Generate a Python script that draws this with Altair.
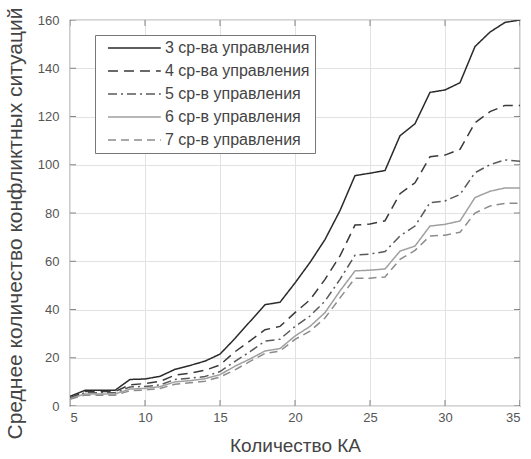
import altair as alt
import pandas as pd

x_vals = list(range(5, 36))

series_names = [
    "3 ср-ва управления",
    "4 ср-ва управления",
    "5 ср-в управления",
    "6 ср-в управления",
    "7 ср-в управления",
]

c3 = [4, 6.5, 6.5, 6.5, 11, 11.2, 12.3, 15.2, 16.8, 18.6, 21.5, 28, 35, 42, 43, 51,
      59.5, 69, 81, 95.5, 96.5, 97.6, 112, 117, 130, 131, 134, 149, 155, 159, 160]
c4 = [3.3, 6, 6, 6, 8.8, 9.3, 10.2, 12.8, 13.6, 14.8, 17, 22.5, 27, 31.6, 33, 38.7,
      44, 52.5, 62.2, 75, 75.4, 76.8, 88, 92.5, 103.3, 104, 106.4, 117.4, 122, 124.6, 124.6]
c5 = [3.2, 5.5, 5.5, 5.5, 7.9, 8.1, 8.7, 11, 11.5, 12.2, 14.3, 18.5, 22.5, 26.9, 27.7, 33,
      37.3, 43.5, 52.5, 62.5, 63, 64, 70.5, 74.6, 84.3, 85, 87.7, 96.7, 100, 102, 101.5]
c6 = [3, 5, 5, 5, 7, 7.3, 8, 10, 10.5, 11.3, 13, 16.5, 19.5, 22.8, 23.8, 29,
      33, 38.7, 47.7, 56, 56.3, 56.8, 64.2, 66.3, 74.6, 75.3, 76.7, 86.4, 89, 90.4, 90.4]
c7 = [2.8, 4.5, 4.5, 4.5, 6.3, 6.6, 7.3, 9, 9.6, 10.3, 12, 15, 18.5, 21.8, 22.8, 27.6,
      31, 36.5, 44.8, 53, 53, 53.5, 60.8, 64.5, 70.5, 70.8, 72, 80, 82.9, 84, 84]

x_ticks = [5, 10, 15, 20, 25, 30, 35]
y_ticks = [0, 20, 40, 60, 80, 100, 120, 140, 160]

line_colors = ["#2a2a2a", "#3a3a3a", "#5a5a5a", "#a0a0a0", "#8c8c8c"]
line_dashes = [[1, 0], [10, 6], [9, 4, 2, 4], [1, 0], [8, 5]]

rows = []
for name, vals in zip(series_names, [c3, c4, c5, c6, c7]):
    for xv, yv in zip(x_vals, vals):
        rows.append({"x": xv, "y": yv, "series": name})
df = pd.DataFrame(rows)

FONT = "Liberation Sans"
xscale = alt.Scale(domain=[5, 35], nice=False, zero=False)
yscale = alt.Scale(domain=[0, 160], nice=False)


def make_legend():
    return alt.Legend(title=None, orient="none", legendX=25, legendY=15,
                      symbolType="M0,0H8.8", symbolSize=144, symbolStrokeWidth=1.4,
                      labelOffset=49, labelFontSize=16, labelColor="#444",
                      labelFont=FONT, rowPadding=7, padding=5,
                      strokeColor="#777", fillColor="white")


lines = alt.Chart(df).mark_line(strokeWidth=1.5, clip=True).encode(
    x=alt.X("x:Q", scale=xscale,
            axis=alt.Axis(values=x_ticks, title="Количество КА", tickSize=0,
                          labelPadding=5, labelFontSize=13, labelColor="#555",
                          titleFontSize=19, titleColor="#444", titleFontWeight="normal",
                          titleX=225, titleY=39, titleBaseline="middle",
                          grid=True, gridColor="#e2e2e2", domain=False, labelFont=FONT, titleFont=FONT)),
    y=alt.Y("y:Q", scale=yscale,
            axis=alt.Axis(values=y_ticks, title="Среднее количество конфликтных ситуаций",
                          tickSize=0, labelPadding=11, labelFontSize=13, labelColor="#555",
                          titleFontSize=21, titleColor="#444", titleFontWeight="normal",
                          titleX=-55, titleY=203, titleAngle=-90, titleAlign="center",
                          titleBaseline="middle",
                          grid=True, gridColor="#e2e2e2", domain=False, labelFont=FONT, titleFont=FONT)),
    color=alt.Color("series:N", scale=alt.Scale(domain=series_names, range=line_colors),
                    legend=make_legend()),
    strokeDash=alt.StrokeDash("series:N", scale=alt.Scale(domain=series_names, range=line_dashes),
                              legend=make_legend()),
)

ytick_df = pd.DataFrame([{"pos": p, "y": v} for p in [5, 35] for v in y_ticks])
xtick_df = pd.DataFrame([{"x": v, "pos": p} for p in [0, 160] for v in x_ticks])

yticks = alt.Chart(ytick_df).mark_tick(orient="horizontal", size=12, thickness=1,
                                       color="#555", clip=True).encode(
    x=alt.X("pos:Q", scale=xscale), y=alt.Y("y:Q", scale=yscale))
xticks = alt.Chart(xtick_df).mark_tick(orient="vertical", size=12, thickness=1,
                                       color="#555", clip=True).encode(
    x=alt.X("x:Q", scale=xscale), y=alt.Y("pos:Q", scale=yscale))

chart = alt.layer(lines, yticks, xticks).properties(
    width=450, height=386,
    autosize=alt.AutoSizeParams(type="none"),
    padding={"left": 70, "top": 20, "right": 11, "bottom": 53},
    background="white",
).configure_view(stroke="#555", strokeWidth=1.2)

chart.save("out.html", embed_options={"renderer": "svg", "actions": False})
